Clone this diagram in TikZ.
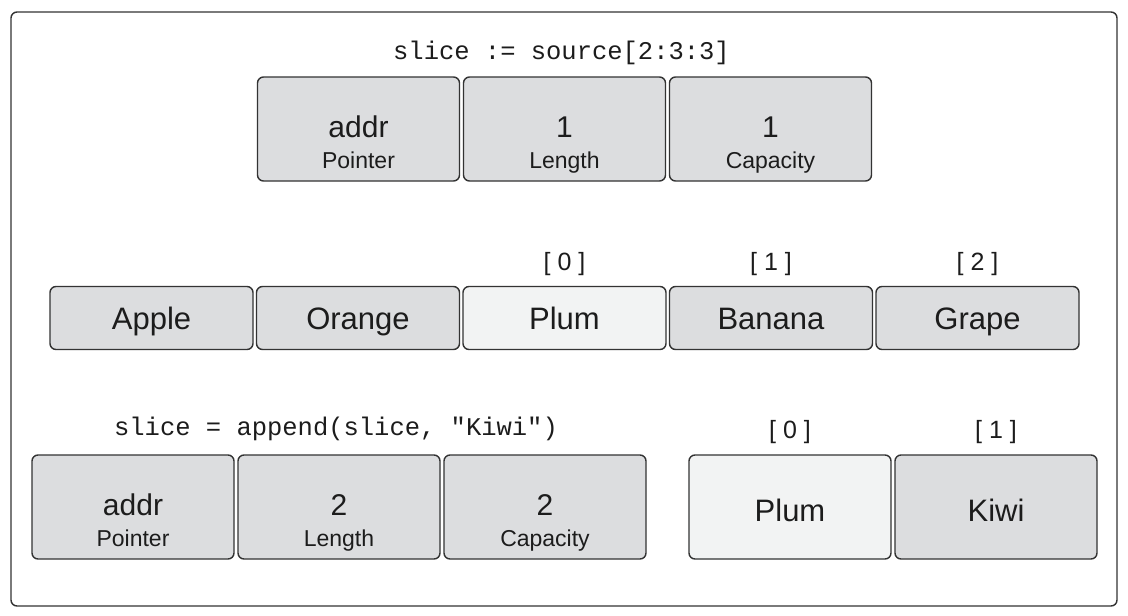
\documentclass[tikz,border=0pt]{standalone}
\usepackage{fontspec}
\setmainfont{Liberation Sans}
\setmonofont{Liberation Mono}
\usepackage{tikz}
\usetikzlibrary{positioning}
\definecolor{cellgray}{HTML}{DCDDDF}
\definecolor{cellpale}{HTML}{F2F3F3}
\definecolor{edgegray}{HTML}{333333}
\definecolor{inkgray}{HTML}{1C1C1C}
\tikzset{fieldnode/.style={rectangle, rounded corners=6pt, draw=edgegray, fill=cellgray, line width=1.4pt, minimum width=202pt, minimum height=104pt, inner sep=0pt, outer sep=0pt, text=inkgray, text height=22pt, text depth=6pt, font=\fontsize{30}{36}\selectfont},}
\tikzset{cellnode/.style={rectangle, rounded corners=6pt, draw=edgegray, fill=cellgray, line width=1.4pt, minimum width=203pt, minimum height=63pt, inner sep=0pt, outer sep=0pt, text=inkgray, text height=22pt, text depth=0pt, font=\fontsize{31}{36}\selectfont},}
\tikzset{capnode/.style={inner sep=0pt, text=inkgray, text depth=0pt, font=\fontsize{23}{28}\selectfont},}
\tikzset{codenode/.style={inner sep=0pt, anchor=base, text=inkgray, font=\ttfamily\fontsize{25.5}{30}\selectfont},}
\tikzset{idxnode/.style={inner sep=0pt, anchor=base, text=inkgray, font=\fontsize{25}{30}\selectfont},}
\begin{document}
\begin{tikzpicture}[x=1pt, y=-1pt]
\useasboundingbox (0,0) rectangle (1128,616);
\draw[edgegray, line width=1.4pt, rounded corners=6pt] (11,12) rectangle (1117,606);
% slice := source[2:3:3]
\node [fieldnode] (ptr) at (358.5,129) {addr};
\node [fieldnode] (len) [right=4pt of ptr] {1};
\node [fieldnode] (cap) [right=4pt of len] {1};
\node [capnode] (ptrlbl) [above=12pt of ptr.south] {Pointer};
\node [capnode] (lenlbl) [above=12pt of len.south] {Length};
\node [capnode] (caplbl) [above=12pt of cap.south] {Capacity};
\node [codenode] (src) at ([xshift=-3pt, yshift=18pt]len.north) {slice := source[2:3:3]};
% underlying array
\node [cellnode] (apple) at (151.5,318) {Apple};
\node [cellnode] (orange) [right=3.5pt of apple] {Orange};
\node [cellnode, fill=cellpale] (plum) [right=3.5pt of orange] {Plum};
\node [cellnode] (banana) [right=3.5pt of plum] {Banana};
\node [cellnode] (grape) [right=3.5pt of banana] {Grape};
\node [idxnode] (ia) at ([yshift=16pt]plum.north) {[ 0 ]};
\node [idxnode] (ib) at ([yshift=16pt]banana.north) {[ 1 ]};
\node [idxnode] (ic) at ([yshift=16pt]grape.north) {[ 2 ]};
% slice = append(slice, "Kiwi")
\node [fieldnode] (ptrb) at (133,507) {addr};
\node [fieldnode] (lenb) [right=4pt of ptrb] {2};
\node [fieldnode] (capb) [right=4pt of lenb] {2};
\node [capnode] (ptrblbl) [above=12pt of ptrb.south] {Pointer};
\node [capnode] (lenblbl) [above=12pt of lenb.south] {Length};
\node [capnode] (capblbl) [above=12pt of capb.south] {Capacity};
\node [codenode] (app) at ([xshift=-3pt, yshift=20pt]lenb.north) {slice = append(slice, "Kiwi")};
\node [fieldnode, fill=cellpale, font=\fontsize{31}{36}\selectfont, text height=29pt, text depth=0pt] (plumb) at (790,507) {Plum};
\node [fieldnode, font=\fontsize{31}{36}\selectfont, text height=29pt, text depth=0pt] (kiwi) [right=4pt of plumb] {Kiwi};
\node [idxnode] (id) at ([yshift=17pt]plumb.north) {[ 0 ]};
\node [idxnode] (ie) at ([yshift=17pt]kiwi.north) {[ 1 ]};
\end{tikzpicture}
\end{document}
